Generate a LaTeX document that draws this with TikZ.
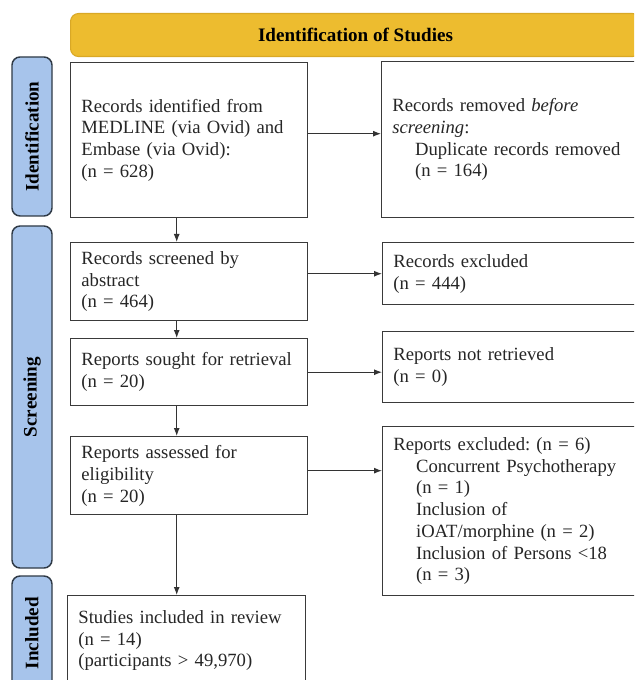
\documentclass[tikz,border=0pt]{standalone}
\usepackage{fontspec}
\setmainfont{Liberation Serif}
\usetikzlibrary{positioning}
\usetikzlibrary{arrows.meta}
\definecolor{headyellow}{HTML}{EDBC2F}
\definecolor{headedge}{HTML}{D9A826}
\definecolor{sideblue}{HTML}{A7C4EB}
\definecolor{sideedge}{HTML}{2F3A46}
\definecolor{boxedge}{HTML}{3A3A3A}
\frenchspacing
\hyphenpenalty=10000
\exhyphenpenalty=10000
\newcommand{\ind}{\hspace*{17pt}}
\tikzset{
  box/.style={draw=boxedge,line width=1.1pt,rectangle,anchor=north west,align=left,inner xsep=8pt,text=black!85},
  lbox/.style={box,text width=161.75pt,minimum width=177.75pt},
  rbox/.style={box,text width=178.25pt,minimum width=194.25pt},
  side/.style={draw=sideedge,fill=sideblue,line width=1.1pt,rounded corners=6pt,rotate=90,minimum height=30pt,font=\fontsize{14.3}{16.3}\selectfont\bfseries},
  arr/.style={draw=black!80,line width=0.8pt,-{Latex[length=6pt,width=4.5pt]}}
}
\begin{document}
\begin{tikzpicture}[x=0.75pt,y=-0.75pt,every node/.style={font=\fontsize{14}{16.3}\selectfont}]
\useasboundingbox (0,0) rectangle (634,680);
\clip (0,0) rectangle (634,680);
\fill[white] (0,0) rectangle (634,680);

\node[draw=headedge,fill=headyellow,line width=0.8pt,rounded corners=6pt,anchor=north west,minimum width=427.5pt,minimum height=32.25pt,font=\fontsize{14.3}{16.3}\selectfont\bfseries] (H) at (70,13) {Identification of Studies};

\node[side,minimum width=119.25pt] (SI) at (32,136.5) {Identification};
\node[side,minimum width=256.5pt] (SS) at (32,397) {Screening};
\node[side,minimum width=85.5pt] (SN) at (32,633) {Included};

\node[lbox,minimum height=116.25pt] (B1) at (70,62) {Records identified from\\MEDLINE (via Ovid) and\\Embase (via Ovid):\\(n = 628)};
\node[lbox,minimum height=58.5pt] (B2) at (70,242) {Records screened by\\abstract\\(n = 464)};
\node[lbox,minimum height=50.25pt] (B3) at (70,338) {Reports sought for retrieval\\(n = 20)};
\node[lbox,minimum height=58.5pt] (B4) at (70,436) {Reports assessed for\\eligibility\\(n = 20)};
\node[lbox,text width=162.5pt,minimum width=178.5pt,minimum height=67.5pt] (B5) at (67,595) {Studies included in review\\(n = 14)\\(participants > 49,970)};

\node[rbox,minimum height=117pt] (R1) at (381,61) {Records removed \textit{before}\\\textit{screening}:\\\ind Duplicate records removed\\\ind(n = 164)\\[8pt]};
\node[rbox,text width=177.5pt,minimum width=193.5pt,minimum height=46.5pt] (R2) at (382,242) {Records excluded\\(n = 444)};
\node[rbox,text width=177.5pt,minimum width=193.5pt,minimum height=53.25pt] (R3) at (382,331) {Reports not retrieved\\(n = 0)};
\node[rbox,text width=177.5pt,minimum width=193.5pt,minimum height=126.75pt] (R4) at (382,426) {Reports excluded: (n = 6)\\\ind Concurrent Psychotherapy\\\ind(n = 1)\\\ind Inclusion of\\\ind iOAT/morphine (n = 2)\\\ind Inclusion of Persons <18\\\ind(n = 3)};

\draw[arr] ([xshift=-9.4pt]B1.south) -- ([xshift=-9.4pt]B1.south |- B2.north);
\draw[arr] ([xshift=-9.4pt]B2.south) -- ([xshift=-9.4pt]B2.south |- B3.north);
\draw[arr] ([xshift=-9.4pt]B3.south) -- ([xshift=-9.4pt]B3.south |- B4.north);
\draw[arr] ([xshift=-9.4pt]B4.south) -- ([xshift=-9.4pt]B4.south |- B5.north);

\draw[arr] ([yshift=4.9pt]B1.east) -- ([yshift=4.9pt]B1.east -| R1.west);
\draw[arr] ([yshift=6pt]B2.east) -- ([yshift=6pt]B2.east -| R2.west);
\draw[arr] (B3.east) -- (B3.east -| R3.west);
\draw[arr] ([yshift=3.8pt]B4.east) -- ([yshift=3.8pt]B4.east -| R4.west);

\end{tikzpicture}
\end{document}
